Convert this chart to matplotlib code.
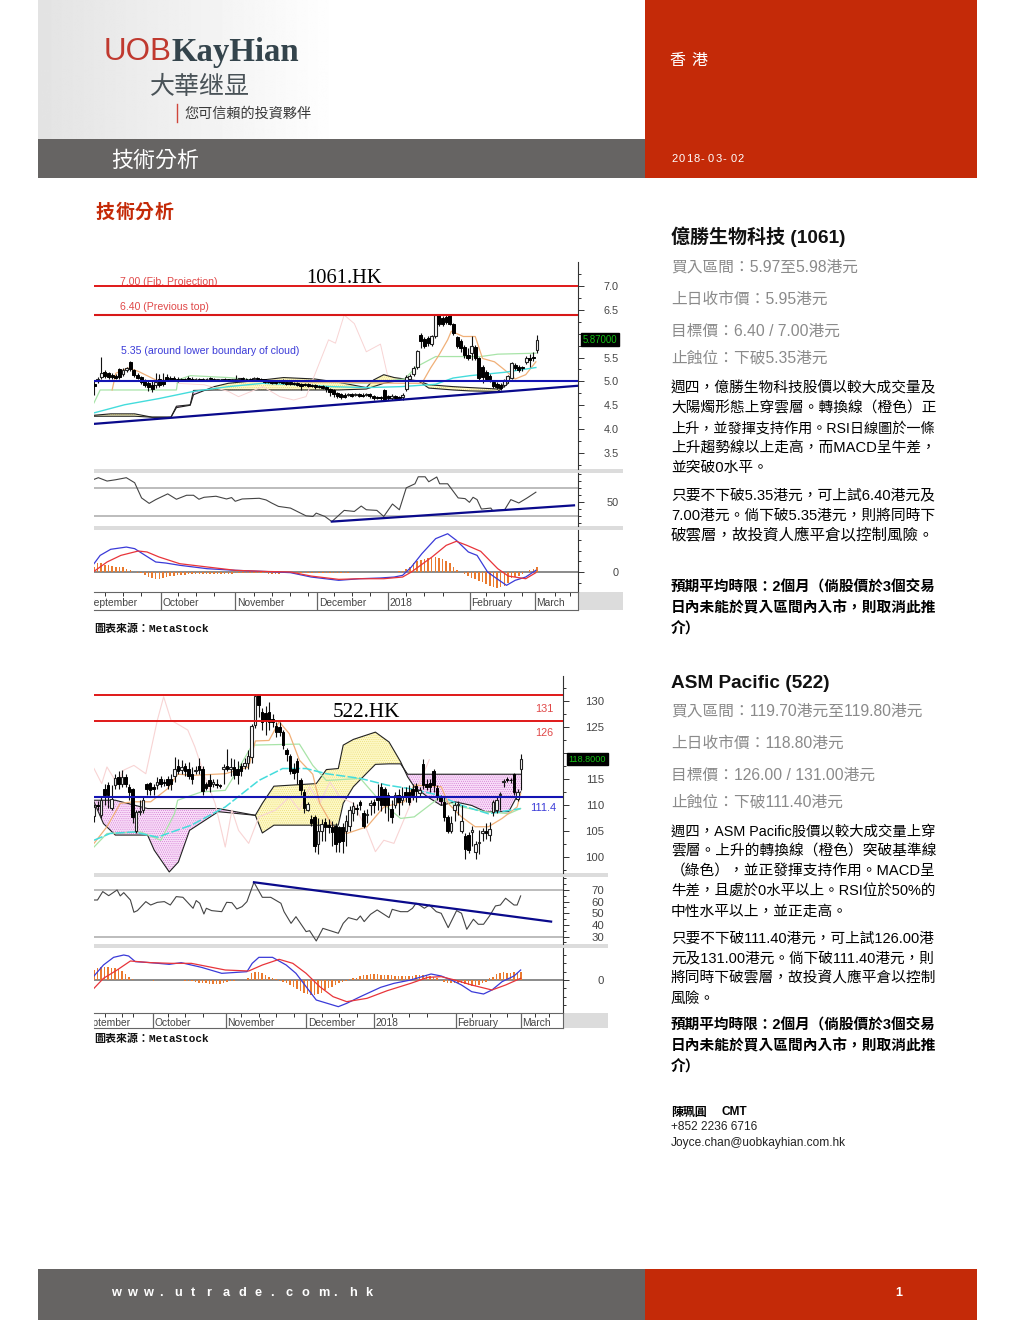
import numpy as np
import matplotlib
matplotlib.use("Agg")
import matplotlib.pyplot as plt
from matplotlib.patches import Rectangle

CJK = ['Liberation Sans', 'Noto Sans CJK TC']
SRC = ['Liberation Mono', 'Noto Sans CJK TC']
plt.rcParams['font.family'] = CJK
plt.rcParams['hatch.linewidth'] = 0.3

# ---------- 1061.HK ----------
c1_open = [4.95,5.00,5.10,5.20,5.18,5.14,5.12,5.26,5.16,5.24,
           5.40,5.24,5.14,5.10,5.02,4.96,4.92,4.92,5.04,5.00,
           5.10,5.08,5.08,5.06,5.04,5.06,5.08,5.06,5.04,5.06,
           5.06,5.04,5.08,5.06,5.02,5.04,5.06,5.04,5.02,5.02,
           5.04,5.08,5.06,5.06,5.04,5.08,5.06,5.04,5.00,5.00,
           5.00,5.00,5.02,4.98,4.98,4.96,4.96,4.94,4.94,4.94,
           4.92,4.92,4.90,4.90,4.88,4.84,4.82,4.76,4.74,4.72,
           4.72,4.74,4.72,4.74,4.72,4.72,4.74,4.70,4.68,4.68,
           4.82,4.70,4.66,4.70,4.68,4.67,4.85,5.05,5.16,5.30,
           5.98,5.88,5.90,5.78,5.95,6.38,6.32,6.35,6.38,6.20,
           5.92,5.85,5.72,5.55,5.60,5.72,5.50,5.30,5.20,5.12,
           4.98,4.95,4.92,4.92,5.00,5.08,5.34,5.30,5.30,5.40,
           5.50,5.52,5.65]
c1_close = [4.90,5.04,5.17,5.12,5.10,5.10,5.08,5.10,5.24,5.28,
            5.26,5.14,5.08,4.98,4.92,4.88,4.84,4.98,4.92,4.94,
            5.02,5.04,5.02,5.02,5.02,5.03,5.05,5.04,5.05,5.03,
            5.03,5.06,5.05,5.03,5.04,5.05,5.03,5.02,5.04,5.05,
            5.07,5.05,5.04,5.03,5.07,5.05,5.03,4.99,4.98,4.97,
            4.96,4.98,4.97,4.95,4.94,4.94,4.92,4.91,4.92,4.90,
            4.90,4.88,4.88,4.86,4.83,4.78,4.74,4.70,4.68,4.68,
            4.74,4.70,4.74,4.70,4.70,4.74,4.69,4.66,4.66,4.66,
            4.60,4.66,4.70,4.66,4.66,4.72,5.10,5.12,5.28,5.63,
            5.85,5.75,5.80,5.95,6.38,6.20,6.20,6.25,6.20,6.02,
            5.75,5.70,5.55,5.48,5.75,5.50,5.08,5.10,5.05,5.05,
            4.90,4.88,4.86,5.02,5.12,5.38,5.28,5.24,5.28,5.50,
            5.45,5.50,5.87]
c1_high = [5.00,5.10,5.52,5.24,5.20,5.18,5.16,5.28,5.28,5.30,
           5.42,5.26,5.18,5.12,5.04,5.00,5.00,5.18,5.16,5.18,
           5.16,5.12,5.12,5.10,5.08,5.08,5.12,5.10,5.08,5.08,
           5.08,5.08,5.10,5.08,5.06,5.06,5.08,5.06,5.06,5.14,
           5.08,5.10,5.08,5.08,5.10,5.10,5.08,5.06,5.02,5.02,
           5.02,5.03,5.04,5.00,5.00,4.98,4.98,4.96,4.96,4.96,
           4.94,4.94,4.92,4.92,4.90,4.86,4.84,4.78,4.76,4.76,
           4.76,4.76,4.76,4.76,4.76,4.76,4.76,4.72,4.70,4.70,
           4.84,4.72,4.74,4.72,4.70,4.76,5.14,5.16,5.32,5.66,
           6.02,5.92,5.94,5.98,6.40,6.40,6.36,6.40,6.40,6.22,
           5.96,5.88,5.76,5.70,5.95,5.76,5.52,5.34,5.24,5.16,
           5.00,4.98,4.96,5.04,5.14,5.40,5.38,5.34,5.32,5.54,
           5.58,5.62,5.97]
c1_low = [4.72,4.96,5.05,5.08,5.06,5.06,5.04,5.06,5.12,5.20,
          5.22,5.10,5.04,4.94,4.88,4.80,4.78,4.86,4.88,4.90,
          5.00,5.00,5.00,4.98,5.00,5.00,5.02,5.02,5.02,5.01,
          5.00,5.02,5.02,5.00,5.00,5.02,5.00,5.00,5.00,5.00,
          5.02,5.03,5.02,5.00,5.02,5.03,5.00,4.97,4.96,4.94,
          4.94,4.96,4.94,4.92,4.92,4.92,4.90,4.82,4.90,4.88,
          4.88,4.84,4.86,4.84,4.78,4.70,4.68,4.66,4.64,4.66,
          4.70,4.68,4.70,4.68,4.68,4.70,4.66,4.62,4.64,4.62,
          4.58,4.60,4.62,4.64,4.62,4.62,4.80,5.00,5.12,5.26,
          5.70,5.70,5.74,5.74,5.90,6.16,6.16,6.20,6.18,5.98,
          5.70,5.62,5.50,5.44,5.45,5.45,5.02,4.96,5.00,4.98,
          4.86,4.84,4.82,4.88,4.96,5.06,5.24,5.20,5.22,5.36,
          5.30,5.42,5.60]

c1_cloud_days = [0,4.6,11.2,16,21.2,22.7,26.5,27.4,33.1,37,46.5,52.2,60.8,67.4,75,77,79.8,82.7,89.3,92.2,98.9,103.6,111.2,114.1]
c1_span_a = [4.29,4.32,4.32,4.25,4.25,4.45,4.50,4.72,4.89,4.96,5.03,5.08,5.05,4.98,4.87,5.03,5.14,5.08,5.01,4.93,4.89,4.87,4.84,5.01]
c1_span_b = [4.27,4.27,4.27,4.25,4.25,4.48,4.51,4.81,4.82,4.82,4.82,4.82,4.82,4.82,4.84,4.89,4.96,5.00,5.01,4.86,4.82,4.80,4.79,4.96]
c1_cyan_days = [0,8.4,17.9,27.4,37,46.5,56,65.5,75,84.6,94.1,98.9,103.6,113.1,121.7]
c1_cyan = [4.34,4.51,4.64,4.79,4.89,4.96,4.93,4.89,4.87,4.89,4.94,5.07,5.12,5.19,5.29]
c1_orange_days = [5,6,9.3,12.2,17,23.6,46.5,84.6,90.3,92.7,95,97.4,98.4,101.7,105,107,110.3,113.1,116,118.9,121.7]
c1_orange = [4.82,5.17,5.28,5.21,5.03,5.01,5.00,4.96,4.96,5.28,5.55,5.87,6.05,5.94,5.94,5.48,5.41,5.24,5.05,5.14,5.41]
c1_green_days = [0,1.7,22.7,23.1,26.5,37,46.5,75,85.5,88.9,94.1,106.5,111.2,121.7]
c1_green = [4.55,4.82,4.82,5.03,5.12,5.08,5.01,4.96,5.05,5.31,5.52,5.52,5.57,5.59]
c1_pink_days = [22.7,30.3,37,39.8,46.5,51.2,55,58.4,60.8,64.6,66.5,68.9,71.7,75,78.9,80.8]
c1_pink = [4.96,4.93,4.79,4.68,4.89,4.68,4.61,4.68,5.14,5.87,5.80,6.39,6.21,5.62,5.78,5.14]

c1_rsi_days = [0,1.2,3.6,6,8.9,11.2,13.1,15.2,17,20.3,22.7,25.5,27.4,28.9,30.3,33.6,36.5,37.9,38.9,40.8,45.5,47.4,48.9,50.8,54.1,58.4,60.3,61.2,63.6,65.5,68.9,71.7,73.6,75,77.9,79.8,82.2,84.1,86,88.4,89.3,91.2,92.2,94.4,95.2,97.4,100.3,102.2,103.4,104.4,105.5,106.7,109.3,109.8,113.1,114.8,117,119.3,121.7]
c1_rsi = [82.3,84.7,79.9,81.8,84.7,77.5,55.8,48,53.4,61.6,53.9,59.6,59.6,53.9,56.7,58.2,54.3,56.3,51,54.3,55.3,52.9,48.6,43.7,41.3,30.2,29.3,34.1,29.3,22,38,36.5,44.2,38.9,38,29.3,47.1,38.9,70.2,76,86,86,78.9,85.7,76,76,55.8,54.8,49.5,56.7,53.4,39.9,41.3,37.5,38.9,53.4,48.6,55.8,64]
c1_macd_days = [0,1.7,4.6,8.9,11.2,14.1,17,19.8,23.6,31.2,38.9,46.5,54.1,59.8,67.4,73.1,78.9,82.7,85,87.4,90.3,94.1,97.4,99.8,103.1,105.5,108.4,110.3,113.6,116,118.9,121.7]
c1_macd = [.078,.156,.213,.234,.219,.156,.094,.084,.063,.031,.016,.006,-.006,-.047,-.078,-.063,-.056,-.047,-.031,.047,.172,.313,.359,.297,.188,.156,0,-.047,-.125,-.078,-.047,.016]
c1_signal_days = [0,3.6,7.4,12.2,14.6,17.9,23.6,31.2,38.9,46.5,54.1,59.8,67.4,73.1,79.8,85,87.4,93.1,97,99.8,102.7,106.5,111.2,114.1,118.9,121.7]
c1_signal = [.006,.094,.156,.197,.188,.141,.078,.047,.016,.006,0,-.038,-.069,-.063,-.063,-.047,0,.141,.25,.288,.25,.194,.031,-.038,-.063,-.006]
c1_hist = [.05,.08,.08,.07,.07,.06,.05,.05,.05,.03,.02,0,
           -.01,-.01,-.03,-.05,-.06,-.07,-.065,-.06,-.05,-.04,-.04,-.03,-.03,-.025,-.02,-.02,-.02,-.02,
           -.02,-.02,-.015,-.015,-.015,-.015,-.015,-.015,-.015,-.012,-.012,-.012,-.012,-.012,-.012,-.012,-.012,-.012,-.015,-.015,
           -.015,-.015,-.012,-.012,-.012,-.012,-.012,-.012,-.012,-.012,-.01,-.01,-.01,-.01,-.01,-.01,-.01,-.008,-.008,-.008,
           -.005,-.004,-.004,-.004,-.004,-.004,-.004,-.004,-.004,-.004,-.004,-.004,-.004,-.004,.005,.01,
           .03,.05,.08,.10,.11,.12,.13,.13,.14,.13,.12,.10,.08,.05,.02,0,-.02,-.04,-.06,-.07,-.08,-.09,-.11,-.13,-.14,-.15,-.14,-.13,-.10,-.06,-.05,-.04,-.02,0,.02,.03,.05]
c1_rsi_trend_days = [65.5,132.2]
c1_rsi_trend = [22,45.2]
c1_price_trend_days = [0,133.6]
c1_price_trend = [4.11,4.91]

# ---------- 522.HK ----------
c2_open = [107.8,110,108,113,113.8,109.4,113.8,115.4,114,115.3,
           113.5,113,105,108.6,109,114,114.2,113.5,113.8,115,
           114.5,115,115,115.5,117.4,116.8,117.5,117,116,116.5,
           117.4,117,114,114.8,114,114,113.8,117,117.5,117,
           117.2,117,117.5,117.5,118,119.2,125.4,131.1,127.8,127.6,
           127.8,126.5,125.2,125,124,120.5,119.4,117,118.5,114.8,
           112.5,109,107.3,107.7,102.5,105,106.8,106.2,105.8,106,
           105.8,105.8,105,106,108.5,109.4,110.5,108.5,108,110,
           110.5,111.5,113.5,113,112,109.2,110,112,111,112.5,
           112.5,113,113.6,112.2,117.8,114,114.2,116.6,113.2,111.5,
           110.5,107.7,105,109,110,105,104,104.3,104.8,101,
           102.6,104.6,105,104.3,108.6,109,112,114.5,115,114.8,
           116,111.2,117]
c2_close = [109.6,109.8,111,112,112,111.2,115.2,114,115.3,114,
            112.5,107.6,108.6,108.8,111,113,112.8,113,114.5,114,
            114.2,113.8,114,117,116.5,117.2,116.5,115.5,115,116.8,
            116.7,112.6,113.3,113.6,114.5,113.8,113.6,117.2,117,117.3,
            115.8,115.8,116.5,118,119.4,125.1,131,129.2,126,126.2,
            126,126,124,124,121.5,119.8,116.5,116.2,116.3,112.8,
            109.5,110.2,106.5,102,105,106.4,105.8,105.8,104.8,102.5,
            102.8,103,107,109,109.8,109.2,110,106,108.2,110.4,
            110,111,110,110,110,107.6,112,110.5,111.5,111.5,
            110.5,112,112.6,112.8,113.8,113.5,113.4,113.8,111.6,110.8,
            107.6,105,106.5,110,110.2,107,101.5,101.4,105.2,102.4,
            102.8,104.9,104.5,105.3,110.6,111,112.1,114.6,114.8,114.7,
            112.4,112.5,118.9]
c2_high = [110.2,110.8,111.5,114,114.5,113.8,116,116.5,116.8,116,
           114,113.2,109,111,111.5,114.3,114.4,114,115.3,115.5,
           115,115.5,116,119.2,118.8,118.6,118,118.3,117.3,117.5,
           119,117.5,114.5,116,115,115,114,117.8,120.8,119,
           118.8,118.5,118,119,120.5,125.5,131.3,131.2,128.6,129,
           129.8,127.5,126,126,124.5,121,119.8,118,119,115.2,
           113,110.5,108,108,107.5,107.2,107.5,107.2,107,106.5,
           106,106.5,108,109.8,110.5,110.2,111,109,109.2,111,
           111.2,114,114.3,113.4,112.5,111,112.5,113,113.5,113.5,
           113.8,114,114.2,113.5,118.8,115,115,117,113.8,112,
           111.8,108,107.8,110.6,110.8,110,104.5,104.8,106,103,
           105.2,105.5,106.5,106.8,111,111.5,112.5,115,115.3,115.2,
           116.2,113,119.8]
c2_low = [106.7,109,107.5,110,109.5,109,113,113,113.5,113.5,
          111,106.5,104.5,108,108.5,112,112,112,113,113.5,
          113.7,113,112.8,114.5,116,116,115.5,115,114,116,
          116,112,112.8,112.5,113.5,113.3,113.3,114,116.5,115.5,
          115,114,115.5,117,117,118,124.8,127,124.5,123.5,
          124.5,125,123,123.2,120.8,118.5,116,115,114,112,
          108.5,108.8,106,101,100.5,103,103,104.5,102,101,
          101,100.8,102,105,107,108,109,105.5,106.5,108,
          108.5,109,108.8,108.5,107,106.5,109.5,108,110,110.5,
          110,111,110.5,111.5,113,112.8,112.5,112.5,111,110,
          107,104.5,104.5,107,108,104.5,99.5,100.8,102,99.5,
          100.5,103,103.5,103,107.8,108.5,109,113.5,114.4,114.3,
          112,110.8,112.8]

c2_cloud_days = [0,2.7,6.1,15.3,17.2,21.5,24.1,27.3,35.5,46.1,48.1,51.4,63.5,66.4,69.8,71.2,74.1,80.4,84.3,87.6,89.6,91.5,95.4,99.2,103.1,107.9,111.8,118.5,120.5,121.9]
c2_span_a = [110.6,106.4,104.2,104.2,101.3,97.1,99,105.1,108.7,108,110.3,113.6,114.1,116.8,117,121.5,122.6,124,122.1,118.3,115.4,113.5,111.5,109.9,110.6,109.9,108.7,108.7,111.2,112.5]
c2_span_b = [110.9,110.9,110.9,109.3,109.3,109.3,109.3,109.3,109.3,108,104.6,106.1,106.1,106.1,106.1,110.3,113.5,117.8,117.9,117.9,115.9,115.9,115.9,115.9,115.9,115.9,115.9,115.9,115.9,115.9]
c2_cyan_days = [0,4.6,11.4,18.1,27.8,37.5,47.1,53.9,60.6,66.4,76.1,83.8,90.5,98.3,105,112.7,121.9]
c2_cyan = [103.2,104.5,104.8,103.8,106.1,109.6,114.7,117,117,116,115.1,113.8,113.1,111.9,109.9,108.3,109.3]
c2_orange_days = [0,3.7,7.5,11.4,16.2,21,23.9,28.8,37.5,44.2,46.1,50,52.9,55.8,58.7,62.5,64.5,68.3,72.2,78,82.8,88.6,91.5,99.2,101.2,105,108.9,112.7,116.6,120.9,121.9]
c2_orange = [102.6,105.8,110.3,110.6,110.6,113.1,115.9,115.7,116,117.3,122.3,122.4,126,123.7,118.6,115.9,110.3,105.8,104.5,105.8,109.6,110.6,113.8,113.5,110.3,107.7,105.8,105.8,107.4,109.6,112.2]
c2_green_days = [0,3.7,13.3,19.1,23,23.9,30.7,37.5,41.3,45.2,58.7,62.5,66.4,76.1,81.9,87.6,91.5,98.3,105,111.8,118.5,121.9]
c2_green = [101.9,104.5,104.8,103.2,108.3,110.9,112.5,112.8,117,121.5,121.7,117.6,114.7,115.1,110.6,107.4,107.7,111.2,109.6,108.7,108.3,109.3]
c2_pink_days = [0,2.2,3.7,6.6,8.5,11.4,14.8,18.1,19.9,22,26.8,28.8,31.7,34.6,37.5,39.4,41.3,44.2,47.1,51.9,55.8,58.7,61.6,64.5,67.4,70.3,74.1,78,80.4,82.8,85.7,90.5,95.8]
c2_pink = [117,114.1,117.3,114.1,116.7,117.6,116,126.3,130.8,126.3,124.4,121.2,115.4,110.3,101.9,109,105.1,102.6,107.7,109,111.5,109,113.5,110.3,114.4,111.5,110.3,105.1,101,103.2,102.6,110.3,118.7]

c2_rsi_days = [0,1,2.5,4.2,6.6,7.5,8.5,10.4,11.4,12.4,14.8,16.2,18.1,20.1,21.8,23.5,25.4,28.3,29.2,30.2,31.4,32.1,33.6,36.5,37.9,39.4,40.8,42.3,43.7,45.7,48.1,50.5,53.4,54.3,56.3,57.7,60.6,61.6,63.5,65.4,69.8,71.2,72.7,75.1,76.1,77.2,79,80.9,84.3,85.2,87.6,89.6,91,92,93,94.4,95.8,97.8,99.2,101.2,103.6,105,106.5,108.4,109.8,111.3,113.2,114.7,116.1,117.6,120,120.9,121.9]
c2_rsi = [61.4,61.4,68.6,65.1,70,64.9,67.7,61.4,50.9,52.3,60,57.1,59.4,60,57.1,64.3,63.7,54.3,60.9,58.6,49.4,54.3,52.3,51.4,59.4,59.1,53.7,55.7,60,76.6,63.7,63.7,58.6,51.4,41.4,47.1,34.3,35.1,26.3,37.1,32.9,41.4,46.3,44.3,47.7,42.9,49.1,52.9,46.3,53.4,51.4,51.4,54.3,58.6,57.1,54.3,57.1,51.4,50,37.7,52.3,50,36.3,44.9,40.6,40.6,48.6,56.3,57.1,62.9,57.1,57.1,64.9]
c2_macd_days = [0,2.7,5.6,8.5,9.9,11.8,16.2,21.5,24.9,30.7,36.5,43.7,45.2,47.1,51,54.9,57.7,60.6,63.5,69.8,72.2,76.1,81.9,85.7,90.5,96.3,99.2,102.1,105,107.9,111.3,113.7,116.6,120,121.9]
c2_macd = [.24,.9,1.36,1.5,1.44,1.1,1.04,.94,1.04,.76,.4,.5,1.0,1.36,1.36,.9,.4,-.4,-1.2,-1.6,-1.4,-1.0,-.44,-.2,0,.36,.24,0,-.3,-.7,-.84,-.6,-.1,.24,.6]
c2_signal_days = [0,2.7,6.6,10.4,16.2,22,27.8,37.5,44.2,48.1,52.9,56.8,60.6,64.5,68.3,72.2,78,83.8,90.5,95.4,99.2,103.1,107.9,113.7,117.6,121.9]
c2_signal = [-.5,.1,.6,1.14,1.04,1.0,1.0,.6,.54,.9,1.24,1.0,.4,-.4,-1.0,-1.3,-1.1,-.64,-.2,.16,.2,0,-.3,-.6,-.3,.1]
c2_hist = [.6,.75,.8,.8,.8,.75,.7,.65,.55,.35,.2,.05,.0,.0,-.02,-.02,-.02,-.03,-.02,-.02,
           -.02,.02,.03,.03,.02,-.02,-.03,-.05,-.08,-.1,-.15,-.18,-.2,-.22,-.25,-.25,-.22,-.18,-.1,-.05,
           -.03,-.02,-.02,-.02,.1,.4,.5,.5,.4,.3,.2,.15,.05,-.05,-.1,-.2,-.3,-.4,-.55,-.65,
           -.75,-.85,-.9,-.9,-.85,-.75,-.6,-.5,-.4,-.3,-.2,-.1,-.05,.05,.1,.15,.25,.3,.32,.35,
           .36,.35,.3,.3,.3,.28,.27,.26,.25,.25,.24,.25,.28,.3,.3,.3,.25,.2,.1,.0,-.1,-.15,
           -.2,-.2,-.15,-.2,-.25,-.3,-.35,-.35,-.3,-.2,-.1,.1,.2,.35,.45,.5,.45,.45,.5,.45,.5]
c2_rsi_trend_days = [45.7,130.6]
c2_rsi_trend = [76.6,42.9]

c1_week_ticks = [3,8,13,18.4,23,28,33,38.9,44,49,54,59,61.5,66,71,76,81,86,91,96,103.6,108,113,118,121.4,127,131]
c2_week_ticks = [3,8,11,16.9,21,26,31,37.7,42,47,52,57,60.7,65,70,75,80.1,85,90,95,103.4,108,113,118,122,126,130]
c1_month_days = [18.4,38.9,61.5,81,103.6,121.4]
c2_month_days = [16.9,37.7,60.7,80.1,103.4,122]
month_names = ['October','November','December','2018','February','March']

# page text
body1 = ['週四，億勝生物科技股價以較大成交量及','大陽燭形態上穿雲層。轉換線（橙色）正','上升，並發揮支持作用。RSI日線圖於一條','上升趨勢線以上走高，而MACD呈牛差，','並突破0水平。']
body2 = ['只要不下破5.35港元，可上試6.40港元及','7.00港元。倘下破5.35港元，則將同時下','破雲層，故投資人應平倉以控制風險。']
body3 = ['週四，ASM Pacific股價以較大成交量上穿','雲層。上升的轉換線（橙色）突破基準線','（綠色），並正發揮支持作用。MACD呈','牛差，且處於0水平以上。RSI位於50%的','中性水平以上，並正走高。']
body4 = ['只要不下破111.40港元，可上試126.00港','元及131.00港元。倘下破111.40港元，則','將同時下破雲層，故投資人應平倉以控制','風險。']
note1 = ['預期平均時限：2個月（倘股價於3個交易','日內未能於買入區間內入市，則取消此推','介）']

RED = '#c42a08'
GREY = '#666463'
INFO = '#8a8a8a'

fig = plt.figure(figsize=(10.2, 13.2), dpi=100)
page = fig.add_axes([0, 0, 1, 1])
page.imshow(np.linspace(0.89, 1.0, 300).reshape(1, -1), cmap='gray', vmin=0, vmax=1,
            extent=[38, 340, 139, 0], aspect='auto')
page.set_xlim(0, 1020)
page.set_ylim(1320, 0)
page.axis('off')


def box(x0, y0, x1, y1, color):
    page.add_patch(Rectangle((x0, y0), x1 - x0, y1 - y0, fc=color, ec='none'))


def txt(x, y, s, size, color='k', weight='normal', family=CJK, ha='left'):
    # CJK lines sit a little high with va=center
    if any(ord(ch) > 255 for ch in s):
        y = y + 1.5
    return page.text(x, y, s, fontsize=size, color=color, weight=weight, family=family, va='center', ha=ha)


def spaced(x, y, s, pitch, size, color, weight='normal'):
    for i, ch in enumerate(s):
        txt(x + i * pitch, y, ch, size, color, weight)


def fit_lines(lines, x, ys, right, size, weight='normal'):
    # the report justifies its lines: scale all but the short ones to the column edge
    r = fig.canvas.get_renderer()
    for s, y in zip(lines, ys):
        t = txt(x, y, s, size, 'k', weight)
        w = t.get_window_extent(r).width
        if x + w > right - 30:
            t.set_fontsize(size * (right - x) / w)


box(645, 0, 977, 178, RED)
box(38, 139, 645, 178, GREY)
box(38, 1269, 645, 1320, GREY)
box(645, 1269, 977, 1320, RED)

# logo
txt(104, 52, 'UOB', 22.6, '#c0392f')
txt(172, 52, 'KayHian', 23.7, '#34444c', 'bold', ['Liberation Serif'])
txt(150, 85, '大華继显', 18, '#4a5358')
page.plot([177, 177], [104, 122], color='#d0453a', lw=1)
txt(184, 112, '您可信賴的投資夥伴', 10.2, '#3a3a3a')

spaced(669, 59, '香港', 22, 11.5, 'white')
spaced(671, 159, '2018-03-02', 7.4, 8, 'white')
txt(111, 160, '技術分析', 15.8, 'white')
spaced(96, 211, '技術分析', 19.5, 13.6, RED, 'bold')
spaced(111, 1293, 'www.utrade.com.hk', 15.9, 9.2, 'white', 'bold')
txt(895, 1293, '1', 9, 'white', 'bold')

# right column
txt(671, 235, '億勝生物科技 (1061)', 13.7, '#111111', 'bold')
for y, s in zip([266, 298, 330, 356], ['買入區間：5.97至5.98港元', '上日收市價：5.95港元', '目標價：6.40 / 7.00港元', '止蝕位：下破5.35港元']):
    txt(671, y, s, 11.3, INFO)
fit_lines(body1, 671, [387, 407, 427, 446, 466], 936, 10.6)
fit_lines(body2, 671, [494, 514, 534], 936, 10.6)
fit_lines(note1, 671, [586, 606, 627], 936, 10.6, 'bold')

txt(671, 683, 'ASM Pacific (522)', 13.7, '#111111', 'bold')
for y, s in zip([710, 742, 774, 800], ['買入區間：119.70港元至119.80港元', '上日收市價：118.80港元', '目標價：126.00 / 131.00港元', '止蝕位：下破111.40港元']):
    txt(671, y, s, 11.3, INFO)
fit_lines(body3, 671, [830, 850, 870, 890, 910], 936, 10.6)
fit_lines(body4, 671, [937, 957, 977, 997], 936, 10.6)
fit_lines(note1, 671, [1024, 1044, 1065], 936, 10.6, 'bold')

txt(671, 1111, '陳珮圓', 8.6, 'k', 'bold')
txt(722, 1112, 'CMT', 8.6, 'k', 'bold')
txt(671, 1127, '+852 2236 6716', 8.6, '#222222')
txt(671, 1143, 'Joyce.chan@uobkayhian.com.hk', 8.6, '#222222')
txt(94, 627, '圖表來源：MetaStock', 7.9, '#111111', 'bold', SRC)
txt(94, 1037, '圖表來源：MetaStock', 7.9, '#111111', 'bold', SRC)


def px_axes(x0, y0, x1, y1):
    return fig.add_axes([x0 / 1020, 1 - y1 / 1320, (x1 - x0) / 1020, (y1 - y0) / 1320])


def panel(x0, y0, x1, y1, xmax, ylim, majors, labels, minor, size=7.8):
    ax = px_axes(x0, y0, x1, y1)
    ax.set_xlim(0, xmax)
    ax.set_ylim(*ylim)
    for s in ['left', 'top', 'bottom']:
        ax.spines[s].set_visible(False)
    ax.spines['right'].set_color('#333333')
    ax.spines['right'].set_linewidth(0.8)
    ax.set_xticks([])
    ax.yaxis.tick_right()
    ax.set_yticks(majors, labels, ha='right')
    ax.set_yticks(minor, minor=True)
    ax.tick_params(axis='y', which='major', length=4.5, width=0.7, color='#333333', labelsize=size, labelcolor='#444444', pad=25)
    ax.tick_params(axis='y', which='minor', length=2.5, width=0.7, color='#333333')
    return ax


def candles(ax, o, c, h, l):
    days = np.arange(len(o))
    o, c = np.array(o), np.array(c)
    ax.vlines(days, l, h, color='#111111', lw=0.8, zorder=4)
    up = c >= o
    ax.bar(days[up], (c - o)[up], bottom=o[up], width=0.8, fc='white', ec='#222222', lw=0.8, zorder=5)
    ax.bar(days[~up], (o - c)[~up], bottom=c[~up], width=0.85, fc='black', ec='black', lw=0.7, zorder=5)


def cloud(ax, days, a, b):
    a, b = np.array(a), np.array(b)
    ax.fill_between(days, a, b, where=a >= b, interpolate=True, fc='#fdf8c6', ec='#e8d860', lw=0, hatch='........', zorder=1)
    ax.fill_between(days, a, b, where=a < b, interpolate=True, fc='#f8dcf8', ec='#c860c8', lw=0, hatch='........', zorder=1)
    ax.plot(days, a, color='#222222', lw=0.8, zorder=2)
    ax.plot(days, b, color='#222222', lw=0.8, zorder=2)


def macd_panel(ax, hist, days1, macd, days2, signal):
    ax.axhline(0, color='#777777', lw=1.2, zorder=1)
    ax.bar(np.arange(len(hist)), hist, width=0.42, color='#ea7a2e', lw=0, zorder=2)
    ax.plot(days1, macd, color='#3a3ad8', lw=0.9, zorder=3)
    ax.plot(days2, signal, color='#e8343a', lw=0.9, zorder=3)


def date_bar(x0, y0, x1, y1, xmax, ticks, months, first, first_x, label_y):
    ax = px_axes(x0, y0, x1, y1)
    ax.set_xlim(0, xmax)
    ax.set_ylim(0, 1)
    ax.set_yticks([])
    ax.set_xticks(ticks, [''] * len(ticks))
    ax.xaxis.tick_top()
    ax.tick_params(axis='x', direction='in', length=3, width=0.7, color='#333333')
    ax.spines['left'].set_visible(False)
    for s in ['top', 'bottom', 'right']:
        ax.spines[s].set_color('#666666')
    ax.vlines(months, 0, 1, color='#666666', lw=0.9)
    ax.text(first_x, label_y, first, fontsize=7.4, color='#444444', va='center', clip_on=True)
    for d, m in zip(months, month_names):
        ax.text(d + 0.4, label_y, m, fontsize=7.4, color='#444444', va='center', clip_on=True)


# ---------- chart 1 ----------
XMAX1 = 133.3
box(94, 469, 623, 473, '#dcdcdc')
box(94, 526, 623, 530, '#dcdcdc')
box(578, 592, 623, 610, '#dcdcdc')

ax = panel(94, 262, 578, 469, XMAX1, (3.165, 7.5), [3.5, 4, 4.5, 5, 5.5, 6, 6.5, 7],
           ['3.5', '4.0', '4.5', '5.0', '5.5', '', '6.5', '7.0'], [3.25, 3.75, 4.25, 4.75, 5.25, 5.75, 6.25, 6.75, 7.25])
ax.text(7.2, 7.08, '7.00 (Fib. Projection)', fontsize=7.55, color='#e04848', va='center')
ax.text(7.2, 6.56, '6.40 (Previous top)', fontsize=7.55, color='#e04848', va='center')
ax.text(7.5, 5.64, '5.35 (around lower boundary of cloud)', fontsize=7.55, color='#3c3cd8', va='center')
ax.text(58.4, 7.16, '1061.HK', fontsize=14.8, family=['Liberation Serif'], va='center', zorder=8)
cloud(ax, c1_cloud_days, c1_span_a, c1_span_b)
ax.plot(c1_pink_days, c1_pink, color='#f8d4d4', lw=0.7, zorder=2)
ax.plot(c1_green_days, c1_green, color='#a8e4a8', lw=0.9, zorder=2)
ax.plot(c1_orange_days, c1_orange, color='#f0b078', lw=0.9, zorder=3)
ax.plot(c1_cyan_days, c1_cyan, color='#44dcdc', lw=1.0, zorder=3)
candles(ax, c1_open, c1_close, c1_high, c1_low)
ax.axhline(7.0, color='#e01818', lw=1.4, zorder=6)
ax.axhline(6.4, color='#d81818', lw=1.5, zorder=6)
ax.axhline(5.0, color='#1414b4', lw=1.5, zorder=6)
ax.plot(c1_price_trend_days, c1_price_trend, color='#0a0a8c', lw=1.6, zorder=6)
ax.text(1.0105, 5.87, '5.87000', transform=ax.get_yaxis_transform(), fontsize=6.9, color='#12c012', va='center',
        bbox=dict(fc='black', ec='black', pad=1.2), zorder=9, clip_on=False)

ax = panel(94, 473, 578, 526, XMAX1, (15.7, 91.4), [50], ['50'], [20, 30, 40, 60, 70, 80, 90])
ax.axhline(70, color='#aaaaaa', lw=1.1)
ax.axhline(30, color='#aaaaaa', lw=1.1)
ax.plot(c1_rsi_days, c1_rsi, color='#444444', lw=0.8)
ax.plot(c1_rsi_trend_days, c1_rsi_trend, color='#0a0a8c', lw=1.6)

ax = panel(94, 530, 578, 592, XMAX1, (-0.1875, 0.394), [0], ['0'], [-.1, .1, .2, .3])
macd_panel(ax, c1_hist, c1_macd_days, c1_macd, c1_signal_days, c1_signal)
date_bar(94, 592, 578, 610, XMAX1, c1_week_ticks, c1_month_days, 'September', -1.7, 0.39)

# ---------- chart 2 ----------
XMAX2 = 134
box(94, 873, 608, 877, '#dcdcdc')
box(94, 944, 608, 948, '#dcdcdc')
box(563, 1012.5, 608, 1028, '#dcdcdc')

ax = panel(94, 676, 563, 873, XMAX2, (96.9, 134.8), [100, 105, 110, 115, 120, 125, 130],
           ['100', '105', '110', '115', '', '125', '130'],
           [97.5, 102.5, 107.5, 112.5, 117.5, 122.5, 127.5, 132.5], size=8.2)
cloud(ax, c2_cloud_days, c2_span_a, c2_span_b)
ax.plot(c2_pink_days, c2_pink, color='#f8d4d4', lw=0.8, zorder=2)
ax.plot(c2_green_days, c2_green, color='#a8e4a8', lw=0.9, zorder=2)
ax.plot(c2_orange_days, c2_orange, color='#f0b078', lw=0.9, zorder=3)
ax.plot(c2_cyan_days, c2_cyan, color='#44dcdc', lw=1.1, ls=(0, (6, 1.5)), zorder=3)
candles(ax, c2_open, c2_close, c2_high, c2_low)
ax.axhline(131.2, color='#e01818', lw=1.4, zorder=6)
ax.axhline(126.1, color='#e01818', lw=1.4, zorder=6)
ax.axhline(111.6, color='#1414b4', lw=1.5, zorder=6)
ax.text(68.3, 127.8, '522.HK', fontsize=15.2, family=['Liberation Serif'], va='center', zorder=8)
ax.text(126, 128.4, '131', fontsize=7.8, color='#e04848', va='center')
ax.text(126, 123.8, '126', fontsize=7.8, color='#e04848', va='center')
ax.text(124.6, 109.5, '111.4', fontsize=8, color='#3c3cd8', va='center')
ax.text(1.0115, 118.8, '118.8000', transform=ax.get_yaxis_transform(), fontsize=6.6, color='#12c012', va='center',
        bbox=dict(fc='black', ec='black', pad=1.2), zorder=9, clip_on=False)

ax = panel(94, 877, 563, 944, XMAX2, (23.7, 81.1), [30, 40, 50, 60, 70], ['30', '40', '50', '60', '70'], [25, 35, 45, 55, 65, 75, 80], size=8.2)
ax.axhline(70, color='#aaaaaa', lw=1.1)
ax.axhline(30, color='#aaaaaa', lw=1.1)
ax.plot(c2_rsi_days, c2_rsi, color='#444444', lw=0.8)
ax.plot(c2_rsi_trend_days, c2_rsi_trend, color='#0a0a8c', lw=1.6)

ax = panel(94, 948, 563, 1012.5, XMAX2, (-1.95, 1.92), [0], ['0'], [-1.5, -1, -.5, .5, 1, 1.5], size=8.2)
macd_panel(ax, c2_hist, c2_macd_days, c2_macd, c2_signal_days, c2_signal)
date_bar(94, 1012.5, 563, 1028, XMAX2, c2_week_ticks, c2_month_days, 'September', -3.7, 0.34)

fig.savefig('out.png', dpi=100)
